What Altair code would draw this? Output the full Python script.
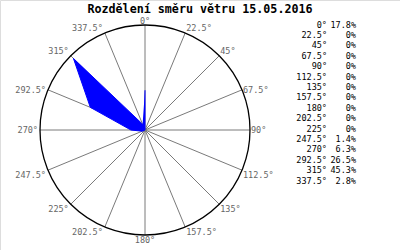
import altair as alt
import pandas as pd

directions = [0, 22.5, 45, 67.5, 90, 112.5, 135, 157.5, 180, 202.5, 225, 247.5, 270, 292.5, 315, 337.5]
dir_labels = ["0°", "22.5°", "45°", "67.5°", "90°", "112.5°", "135°", "157.5°",
              "180°", "202.5°", "225°", "247.5°", "270°", "292.5°", "315°", "337.5°"]
values = [17.8, 0, 0, 0, 0, 0, 0, 0, 0, 0, 0, 1.4, 6.3, 26.5, 45.3, 2.8]
pct_labels = ["17.8%", "0%", "0%", "0%", "0%", "0%", "0%", "0%",
              "0%", "0%", "0%", "1.4%", "6.3%", "26.5%", "45.3%", "2.8%"]
title_text = "Rozdělení směru větru 15.05.2016"

R = 47  # value at the outer circle
PXU = R / 105.0  # data units per pixel

df = pd.DataFrame({"idx": list(range(len(directions))), "angle": directions,
                   "value": values, "label": dir_labels, "pct": pct_labels})

xs = alt.Scale(domain=[-R, R], range=[40, 250])
ys = alt.Scale(domain=[-R, R], range=[235, 25])

base = alt.Chart(df).transform_calculate(
    rad="datum.angle * PI / 180"
).transform_calculate(
    px="datum.value * sin(datum.rad)",
    py="datum.value * cos(datum.rad)",
    ex=f"{R} * sin(datum.rad)",
    ey=f"{R} * cos(datum.rad)",
    s="sin(datum.rad)",
    c="cos(datum.rad)",
    z="0",
).transform_calculate(
    ly=f"datum.ey + (datum.c > 0.5 ? 4.5 : (datum.c < -0.1 ? -4.5 : 0)) * {PXU}"
)

spokes = base.mark_rule(color="#7a7a7a", strokeWidth=1).encode(
    x=alt.X("z:Q", scale=xs, axis=None),
    y=alt.Y("z:Q", scale=ys, axis=None),
    x2="ex:Q",
    y2="ey:Q",
)

circle = alt.Chart(pd.DataFrame({"c": [0]})).mark_point(
    shape="circle", size=44100, filled=False, stroke="black", strokeWidth=1.3, opacity=1
).encode(
    x=alt.X("c:Q", scale=xs, axis=None),
    y=alt.Y("c:Q", scale=ys, axis=None),
)

poly = base.mark_line(fill="#0000ff", stroke="#0000ff", strokeWidth=1).encode(
    x=alt.X("px:Q", scale=xs, axis=None),
    y=alt.Y("py:Q", scale=ys, axis=None),
    order="idx:Q",
)

lab_font = dict(font="DejaVu Sans Mono", fontSize=8.5, color="#666666", baseline="middle")
lab_enc = dict(
    x=alt.X("ex:Q", scale=xs, axis=None),
    y=alt.Y("ly:Q", scale=ys, axis=None),
    text="label:N",
)
lab_left = base.transform_filter("datum.s > 0.1").mark_text(align="left", dx=1, **lab_font).encode(**lab_enc)
lab_right = base.transform_filter("datum.s < -0.1").mark_text(align="right", dx=-2, **lab_font).encode(**lab_enc)
lab_center = base.transform_filter("abs(datum.s) <= 0.1").mark_text(align="center", **lab_font).encode(**lab_enc)

leg_scale = alt.Scale(type="point", range=[24.5, 180.7], padding=0)
leg_font = dict(font="DejaVu Sans Mono", fontSize=8.5, color="black", baseline="middle", align="right")
leg_dir = base.mark_text(**leg_font).encode(
    x=alt.value(327),
    y=alt.Y("idx:O", scale=leg_scale, axis=None),
    text="label:N",
)
leg_pct = base.mark_text(**leg_font).encode(
    x=alt.value(356),
    y=alt.Y("idx:O", scale=leg_scale, axis=None),
    text="pct:N",
)

title = alt.Chart(pd.DataFrame({"t": [title_text]})).mark_text(
    font="DejaVu Sans Mono", fontSize=11.7, fontWeight="bold", color="black",
    align="center", baseline="middle"
).encode(x=alt.value(200), y=alt.value(9), text="t:N")

chart = alt.layer(
    spokes, poly, circle, lab_left, lab_right, lab_center, leg_dir, leg_pct, title
).resolve_scale(
    x="independent", y="independent"
).properties(
    width=400, height=250, padding=0, autosize=alt.AutoSizeParams(type="none")
).configure_view(
    stroke="black", strokeWidth=2
).configure(background="white")

chart.save("out.html", embed_options={"renderer": "svg", "actions": False})
